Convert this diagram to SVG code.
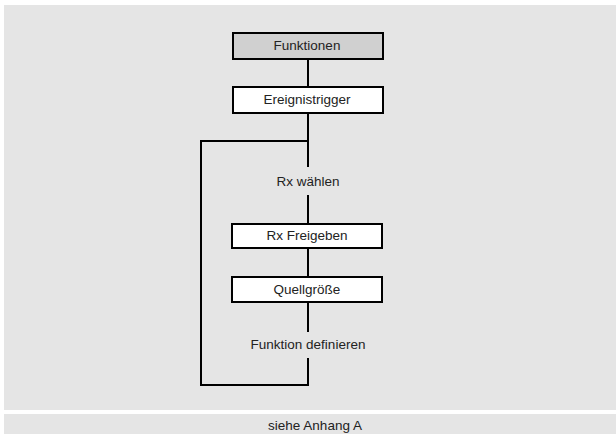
<svg xmlns="http://www.w3.org/2000/svg" width="616" height="434" viewBox="0 0 616 434">
  <style>
    .panel { fill: #e5e5e5; }
    .box { fill: #ffffff; stroke: #000000; stroke-width: 2; }
    .head { fill: #d0d0d0; }
    .lbl { font-family: "Liberation Sans", Arial, sans-serif; font-size: 13.5px; fill: #222222; text-anchor: middle; }
    .conn { fill: none; stroke: #000000; stroke-width: 2; }
  </style>
  <rect x="0" y="0" width="616" height="434" fill="#ffffff"/>
  <rect class="panel" x="4" y="5" width="612" height="405"/>
  <rect class="panel" x="4" y="414" width="612" height="20"/>

  <g id="connectors">
    <line class="conn" x1="308" y1="60" x2="308" y2="86"/>
    <line class="conn" x1="308" y1="114" x2="308" y2="167"/>
    <path class="conn" d="M308,141 H201 V385 H308 V358"/>
    <line class="conn" x1="308" y1="195" x2="308" y2="223"/>
    <line class="conn" x1="308" y1="249" x2="308" y2="276"/>
    <line class="conn" x1="308" y1="303" x2="308" y2="332"/>
  </g>

  <g id="funktionen">
    <rect class="box head" x="233" y="33" width="150" height="26"/>
    <text class="lbl" x="307" y="49.5">Funktionen</text>
  </g>
  <g id="ereignistrigger">
    <rect class="box" x="233" y="87" width="150" height="26"/>
    <text class="lbl" x="307" y="104">Ereignistrigger</text>
  </g>
  <g id="rx-waehlen">
    <text class="lbl" x="308" y="185.5">Rx wählen</text>
  </g>
  <g id="rx-freigeben">
    <rect class="box" x="232" y="224" width="150" height="24"/>
    <text class="lbl" x="307" y="240">Rx Freigeben</text>
  </g>
  <g id="quellgroesse">
    <rect class="box" x="232" y="277" width="150" height="25"/>
    <text class="lbl" x="307" y="293.5">Quellgröße</text>
  </g>
  <g id="funktion-definieren">
    <text class="lbl" x="308" y="348.5">Funktion definieren</text>
  </g>
  <g id="footer">
    <text class="lbl" x="315" y="430">siehe Anhang A</text>
  </g>
</svg>
